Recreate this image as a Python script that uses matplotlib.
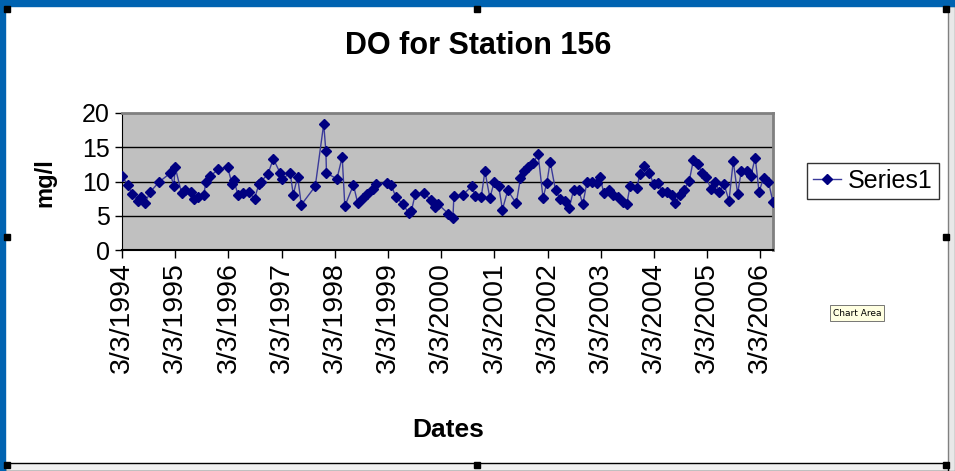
import matplotlib
matplotlib.use("Agg")
import matplotlib.pyplot as plt
import matplotlib.dates as mdates
from matplotlib.patches import Rectangle
import pandas as pd

# dissolved oxygen samples, station 156
sample_dates = [
    "1994-03-03", "1994-04-11", "1994-05-11", "1994-06-21", "1994-07-13", "1994-08-08",
    "1994-09-14", "1994-11-11", "1995-01-27", "1995-02-22", "1995-03-03",
    "1995-04-16", "1995-05-08", "1995-06-17", "1995-07-13", "1995-08-08", "1995-09-14",
    "1995-10-02", "1995-10-31", "1995-12-25", "1996-02-26",
    "1996-03-28", "1996-04-09", "1996-05-08", "1996-06-10", "1996-07-23", "1996-08-29",
    "1996-09-28", "1996-10-13", "1996-11-29", "1997-01-05", "1997-02-22",
    "1997-03-07", "1997-05-01", "1997-05-22", "1997-06-21", "1997-07-16", "1997-10-20",
    "1997-12-17", "1998-01-01", "1998-01-05",
    "1998-03-18", "1998-04-23", "1998-05-11", "1998-07-09", "1998-08-08", "1998-09-10",
    "1998-10-13", "1998-11-19", "1998-12-14", "1999-02-26",
    "1999-03-25", "1999-04-27", "1999-06-14", "1999-07-23", "1999-08-11", "1999-09-07",
    "1999-11-04", "1999-12-25", "2000-01-23", "2000-02-11",
    "2000-04-20", "2000-05-22", "2000-05-29", "2000-07-27", "2000-09-28", "2000-10-23",
    "2000-12-03", "2000-12-28", "2001-01-31", "2001-03-01",
    "2001-04-01", "2001-04-27", "2001-06-03", "2001-07-31", "2001-08-29", "2001-09-25",
    "2001-10-23", "2001-11-26", "2001-12-28", "2002-01-31",
    "2002-02-26", "2002-03-21", "2002-04-27", "2002-05-29", "2002-06-28", "2002-07-31",
    "2002-08-29", "2002-10-02", "2002-10-31", "2002-11-29",
    "2003-01-01", "2003-02-04", "2003-02-26", "2003-03-25", "2003-04-27", "2003-05-29",
    "2003-06-28", "2003-07-31", "2003-08-29", "2003-09-21",
    "2003-11-08", "2003-11-26", "2003-12-28", "2004-01-31", "2004-02-29", "2004-04-01",
    "2004-04-27", "2004-05-29", "2004-07-05", "2004-07-27",
    "2004-08-26", "2004-09-25", "2004-10-31", "2004-11-29", "2004-12-28", "2005-01-27",
    "2005-02-26", "2005-03-28", "2005-04-27", "2005-05-26",
    "2005-06-25", "2005-07-31", "2005-08-29", "2005-09-28", "2005-10-23", "2005-12-03",
    "2005-12-28", "2006-01-27", "2006-02-22", "2006-03-25",
    "2006-04-27", "2006-05-29",
]
do_values = [
    10.8, 9.5, 8.2, 7.1, 7.7, 6.9, 8.5, 9.9, 11.2, 9.4, 12.1,
    8.3, 8.8, 8.5, 7.5, 7.8, 8.0, 10.0, 10.8, 11.8, 12.1,
    9.6, 10.2, 8.0, 8.3, 8.4, 7.5, 9.6, 10.0, 11.1, 13.3, 11.2,
    10.4, 11.2, 8.1, 10.7, 6.6, 9.3, 18.4, 14.4, 11.2,
    10.4, 13.6, 6.4, 9.5, 6.8, 7.6, 8.2, 8.9, 9.7, 9.8,
    9.5, 7.7, 6.7, 5.4, 5.7, 8.2, 8.3, 7.3, 6.3, 6.7,
    5.3, 4.6, 7.9, 8.0, 9.3, 7.9, 7.8, 11.5, 7.6, 9.9,
    9.4, 5.9, 8.7, 6.8, 10.5, 11.5, 12.1, 12.7, 14.0, 7.6,
    9.8, 12.9, 8.7, 7.5, 7.2, 6.2, 8.8, 8.8, 6.7, 9.9,
    10.0, 9.8, 10.6, 8.3, 8.8, 8.1, 7.8, 7.0, 6.7, 9.4,
    9.1, 11.1, 12.3, 11.3, 9.6, 9.8, 8.5, 8.5, 8.0, 6.8,
    8.0, 8.8, 10.1, 13.2, 12.5, 11.3, 10.6, 8.9, 10.0, 8.4,
    9.7, 7.2, 13.0, 8.2, 11.5, 11.5, 10.8, 13.5, 8.5, 10.5,
    10.0, 7.0,
]
y_ticks = [0, 5, 10, 15, 20]

dates = pd.to_datetime(sample_dates)
font = "Liberation Sans"

fig = plt.figure(figsize=(9.55, 4.71), dpi=100)
fig.patch.set_facecolor("white")

ax = fig.add_axes([122 / 955, 1 - 250 / 471, (773 - 122) / 955, 137 / 471])
ax.set_facecolor("#C0C0C0")

ax.plot(dates, do_values, color="#3A3A9A", lw=1.0, marker="D", markersize=4.8,
        mfc="#000080", mec="#000080", label="Series1", zorder=3)

ax.set_xlim(dates[0], dates[-1])
ax.set_ylim(0, 20)
ax.set_yticks(y_ticks)
for v in y_ticks[1:-1]:
    ax.axhline(v, color="black", lw=1.0, zorder=1)

ax.xaxis.set_major_locator(mdates.YearLocator(1, month=3, day=3))
ax.xaxis.set_major_formatter(
    matplotlib.ticker.FuncFormatter(
        lambda x, pos: "{0.month}/{0.day}/{0.year}".format(mdates.num2date(x))))

ax.tick_params(axis="x", direction="out", length=6, width=1, pad=3, rotation=90)
ax.tick_params(axis="y", direction="out", length=5, width=1, pad=4)
for lab in ax.get_xticklabels():
    lab.set_fontfamily(font)
    lab.set_fontsize(20.5)
for lab in ax.get_yticklabels():
    lab.set_fontfamily(font)
    lab.set_fontsize(18)

ax.spines["left"].set_color("black")
ax.spines["bottom"].set_color("black")
ax.spines["bottom"].set_linewidth(1.5)
for s in ("top", "right"):
    ax.spines[s].set_color("#808080")
    ax.spines[s].set_linewidth(2)

# titles
fig.text(478 / 955, 1 - 46 / 471, "DO for Station 156", ha="center", va="center",
         fontsize=22, fontweight="bold", family=font)
fig.text(45 / 955, 1 - 183 / 471, "mg/l", rotation=90, ha="center", va="center",
         fontsize=17, fontweight="bold", family=font)
fig.text(448 / 955, 1 - 430 / 471, "Dates", ha="center", va="center",
         fontsize=19, fontweight="bold", family=font)

leg = ax.legend(loc="center left", bbox_to_anchor=(807 / 955, 1 - 181 / 471),
                bbox_transform=fig.transFigure, borderaxespad=0, frameon=True,
                fancybox=False, numpoints=1, handlelength=1.1, handletextpad=0.3,
                borderpad=0.25, prop={"family": font, "size": 18})
leg.get_frame().set_edgecolor("black")
leg.get_frame().set_linewidth(1.0)

# window frame around the chart area
fig.patches.append(Rectangle((0, 1 - 6 / 471), 1, 6 / 471, transform=fig.transFigure,
                             color="#0063B1", zorder=5))
fig.patches.append(Rectangle((0, 0), 5 / 955, 1, transform=fig.transFigure,
                             color="#0063B1", zorder=5))
fig.patches.append(Rectangle((948 / 955, 0), 7 / 955, 1 - 6 / 471, transform=fig.transFigure,
                             facecolor="#E8E8E8", edgecolor="#808080", lw=1, zorder=4))
fig.patches.append(Rectangle((5 / 955, 0), 943 / 955, 8 / 471, transform=fig.transFigure,
                             facecolor="#F0F0F0", edgecolor="black", lw=1, zorder=4))
for hx, hy in [(7, 9), (477, 9), (946, 9), (7, 237), (946, 237),
               (7, 465), (477, 465), (946, 465)]:
    fig.patches.append(Rectangle(((hx - 3) / 955, 1 - (hy + 3) / 471), 6 / 955, 6 / 471,
                                 transform=fig.transFigure, color="black", zorder=6))

fig.text(857 / 955, 1 - 313 / 471, "Chart Area", ha="center", va="center", fontsize=6.5,
         family="DejaVu Sans",
         bbox={"facecolor": "#FFFFE1", "edgecolor": "#606060", "pad": 2.2, "lw": 0.6})

fig.savefig("out.png", dpi=100)
